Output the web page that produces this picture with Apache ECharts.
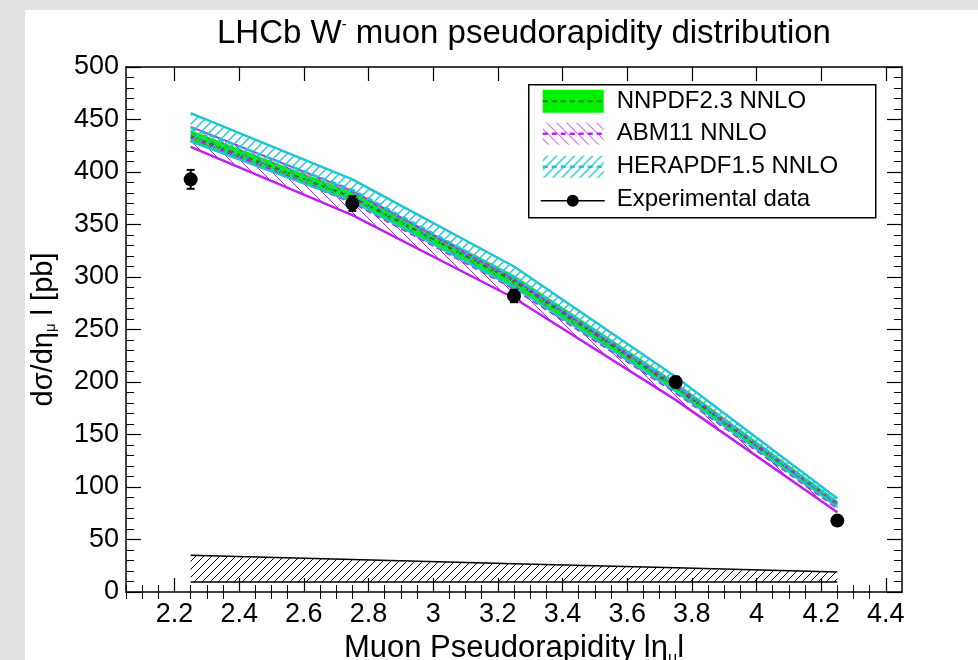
<!DOCTYPE html>
<html><head><meta charset="utf-8">
<script src="https://cdn.jsdelivr.net/npm/echarts@6/dist/echarts.min.js"></script>
<style>
html,body{margin:0;padding:0;background:#e2e2e2;width:978px;height:660px;overflow:hidden;}
#paper{position:absolute;left:25px;top:10px;width:953px;height:650px;background:#fff;}
#chart{position:absolute;left:0;top:0;width:978px;height:660px;}
</style>
</head><body><div id="paper"></div><div id="chart"></div>
<script>
// ---- data ----
const etaBins = [2.25, 2.75, 3.25, 3.75, 4.25];
const dataValues = [393, 370, 282, 200, 68];
const dataErrors = [9, 7, 6, 5, 3];
const nnpdfCentral = [434, 376, 296, 195, 84];
const nnpdfUpper   = [440, 381, 302, 200, 87];
const nnpdfLower   = [428, 371, 290, 190, 81];
const abmCentral   = [433, 371, 289, 190, 80];
const abmUpper     = [443, 382, 298, 197, 84];
const abmLower     = [424, 359, 280, 183, 76];
const heraCentral  = [442, 383, 300, 198, 85];
const heraUpper    = [456, 393, 310, 205, 89];
const heraLower    = [429, 372, 290, 191, 81];
const sysUpper     = [35, 31, 27, 23, 19];
const sysLower     = [9.5, 9.5, 9.5, 9.5, 9.5];
const xMajorTicks  = [2.2, 2.4, 2.6, 2.8, 3, 3.2, 3.4, 3.6, 3.8, 4, 4.2, 4.4];
const xMinorTicks  = [2.05, 2.1, 2.15, 2.25, 2.3, 2.35, 2.45, 2.5, 2.55, 2.65, 2.7, 2.75, 2.85, 2.9, 2.95,
                      3.05, 3.1, 3.15, 3.25, 3.3, 3.35, 3.45, 3.5, 3.55, 3.65, 3.7, 3.75, 3.85, 3.9, 3.95,
                      4.05, 4.1, 4.15, 4.25, 4.3, 4.35];
const legendNames  = ['NNPDF2.3 NNLO', 'ABM11 NNLO', 'HERAPDF1.5 NNLO', 'Experimental data'];

const FONT = '"Liberation Sans", Arial, Helvetica, sans-serif';
const CYAN = '#1ec6d3', MAG = '#bf1ff0', GREEN = '#00f000', DGREEN = '#008a00';

function hatch(color, dir, size, lw) {
  const c = document.createElement('canvas'); c.width = size; c.height = size;
  const g = c.getContext('2d'); g.strokeStyle = color; g.lineWidth = lw; g.beginPath();
  if (dir > 0) {
    g.moveTo(0, size); g.lineTo(size, 0);
    g.moveTo(-size, size); g.lineTo(size, -size);
    g.moveTo(0, 2 * size); g.lineTo(2 * size, 0);
  } else {
    g.moveTo(0, 0); g.lineTo(size, size);
    g.moveTo(-size, 0); g.lineTo(size, 2 * size);
    g.moveTo(0, -size); g.lineTo(2 * size, size);
  }
  g.stroke();
  return { image: c, repeat: 'repeat' };
}
const cyanHatch = hatch(CYAN, 1, 9, 1.4);
const magHatch = hatch(MAG, -1, 10, 1);
const blackHatch = hatch('#000', 1, 8, 1);

function band(upper, lower, fill, z) {
  return {
    type: 'custom', z, silent: true, clip: true,
    data: etaBins.map((x, i) => [x, upper[i], lower[i]]),
    encode: { x: 0, y: [1, 2] },
    renderItem(params, api) {
      if (params.dataIndex !== 0) return null;
      const pts = [];
      for (let i = 0; i < etaBins.length; i++) pts.push(api.coord([etaBins[i], upper[i]]));
      for (let i = etaBins.length - 1; i >= 0; i--) pts.push(api.coord([etaBins[i], lower[i]]));
      return { type: 'polygon', shape: { points: pts }, style: { fill: fill, stroke: null } };
    }
  };
}
function curve(vals, color, type, width, z) {
  return { type: 'line', z, silent: true, symbol: 'none', data: etaBins.map((x, i) => [x, vals[i]]),
           lineStyle: { color, type, width } };
}

const chart = echarts.init(document.getElementById('chart'), null, { renderer: 'canvas' });

const axisCommon = { min: 2.05, max: 4.45, type: 'value', gridIndex: 0, splitLine: { show: false } };
const option = {
  animation: false,
  backgroundColor: 'transparent',
  title: {
    text: 'LHCb W{sup|-} muon pseudorapidity distribution',
    left: 212, top: 12,
    textStyle: { fontFamily: FONT, fontSize: 33, fontWeight: 'normal', color: '#000',
      rich: { sup: { fontFamily: FONT, fontSize: 15, verticalAlign: 'top', color: '#000' } } }
  },
  grid: { left: 126, right: 76, top: 67, bottom: 68, outerBoundsMode: 'none', containLabel: false },
  xAxis: [
    Object.assign({}, axisCommon, { position: 'bottom',
      name: 'Muon Pseudorapidity l{e|η}{s|μ}{e|l}', nameLocation: 'middle', nameGap: 35,
      nameTextStyle: { fontFamily: FONT, fontSize: 31, color: '#000',
        rich: { e: { fontFamily: FONT, fontSize: 31, lineHeight: 36, verticalAlign: 'middle' },
                s: { fontFamily: FONT, fontSize: 16, lineHeight: 16, verticalAlign: 'bottom' } } },
      axisLine: { show: true, onZero: false, lineStyle: { color: '#000', width: 1.5 } },
      axisTick: { show: true, inside: true, length: 14, customValues: xMajorTicks, lineStyle: { color: '#000', width: 1.2 } },
      axisLabel: { show: true, customValues: xMajorTicks, margin: 9, fontFamily: FONT, fontSize: 27, color: '#000' } }),
    Object.assign({}, axisCommon, { position: 'bottom',
      axisLine: { show: false }, axisLabel: { show: false },
      axisTick: { show: true, inside: true, length: 7, customValues: xMinorTicks, lineStyle: { color: '#000', width: 1 } } }),
    Object.assign({}, axisCommon, { position: 'top',
      axisLine: { show: true, onZero: false, lineStyle: { color: '#000', width: 1.5 } }, axisLabel: { show: false },
      axisTick: { show: true, inside: true, length: 14, customValues: xMajorTicks, lineStyle: { color: '#000', width: 1.2 } } }),
    Object.assign({}, axisCommon, { position: 'top',
      axisLine: { show: false }, axisLabel: { show: false },
      axisTick: { show: true, inside: true, length: 7, customValues: xMinorTicks, lineStyle: { color: '#000', width: 1 } } })
  ],
  yAxis: [
    { type: 'value', min: 0, max: 500, interval: 50, position: 'left',
      name: 'dσ/dη{s|μ} l [pb]', nameLocation: 'middle', nameGap: 68, nameRotate: 90,
      nameTextStyle: { fontFamily: FONT, fontSize: 29, color: '#000',
        rich: { s: { fontFamily: FONT, fontSize: 15, lineHeight: 15, verticalAlign: 'bottom' } } },
      splitLine: { show: false },
      axisLine: { show: true, onZero: false, lineStyle: { color: '#000', width: 1.5 } },
      axisTick: { show: true, inside: true, length: 15, lineStyle: { color: '#000', width: 1.2 } },
      minorTick: { show: true, splitNumber: 5, length: 8, lineStyle: { color: '#000', width: 1 } },
      axisLabel: { margin: 7, fontFamily: FONT, fontSize: 27, color: '#000' } },
    { type: 'value', min: 0, max: 500, interval: 50, position: 'right',
      splitLine: { show: false },
      axisLine: { show: true, onZero: false, lineStyle: { color: '#000', width: 1.5 } },
      axisTick: { show: true, inside: true, length: 15, lineStyle: { color: '#000', width: 1.2 } },
      minorTick: { show: true, splitNumber: 5, length: 8, lineStyle: { color: '#000', width: 1 } },
      axisLabel: { show: false } }
  ],
  series: [
    band(sysUpper, sysLower, blackHatch, 2),
    curve(sysUpper, '#000', 'solid', 1.5, 3),
    curve(sysLower, '#000', 'solid', 1.5, 3),
    band(nnpdfUpper, nnpdfLower, GREEN, 4),
    curve(nnpdfCentral, DGREEN, [6, 4], 2, 5),
    band(abmUpper, abmLower, magHatch, 6),
    curve(abmUpper, MAG, 'solid', 2, 7),
    curve(abmLower, MAG, 'solid', 2.5, 7),
    curve(abmCentral, MAG, [6, 4], 2.5, 7),
    band(heraUpper, heraLower, cyanHatch, 8),
    curve(heraUpper, CYAN, 'solid', 2.5, 9),
    curve(heraLower, CYAN, 'solid', 2, 9),
    curve(heraCentral, CYAN, [6, 4], 2.5, 9),
    { type: 'custom', z: 11, silent: true,
      data: etaBins.map((x, i) => [x, dataValues[i], dataErrors[i]]),
      renderItem(params, api) {
        const x = api.value(0), y = api.value(1), e = api.value(2);
        const t = api.coord([x, y + e]), b = api.coord([x, y - e]);
        const st = { stroke: '#000', lineWidth: 2 };
        return { type: 'group', children: [
          { type: 'line', shape: { x1: t[0], y1: t[1], x2: b[0], y2: b[1] }, style: st },
          { type: 'line', shape: { x1: t[0] - 4, y1: t[1], x2: t[0] + 4, y2: t[1] }, style: st },
          { type: 'line', shape: { x1: b[0] - 4, y1: b[1], x2: b[0] + 4, y2: b[1] }, style: st } ] };
      } },
    { type: 'scatter', name: legendNames[3], z: 12, silent: true, symbol: 'circle', symbolSize: 14,
      itemStyle: { color: '#000', opacity: 1 }, data: etaBins.map((x, i) => [x, dataValues[i]]) }
  ],
  graphic: [
    { type: 'group', left: 528, top: 84, z: 100, children: [
      { type: 'rect', shape: { x: 0, y: 0, width: 347, height: 133 }, style: { fill: '#fff', stroke: '#000', lineWidth: 1.5 } },
      { type: 'rect', shape: { x: 14, y: 5, width: 61, height: 23 }, style: { fill: GREEN } },
      { type: 'line', shape: { x1: 14, y1: 16.5, x2: 75, y2: 16.5 }, style: { stroke: DGREEN, lineWidth: 2, lineDash: [5, 4] } },
      { type: 'rect', shape: { x: 14, y: 38, width: 61, height: 22 }, style: { fill: magHatch } },
      { type: 'line', shape: { x1: 14, y1: 49, x2: 75, y2: 49 }, style: { stroke: MAG, lineWidth: 2.5, lineDash: [5, 4] } },
      { type: 'rect', shape: { x: 14, y: 71, width: 61, height: 22 }, style: { fill: cyanHatch } },
      { type: 'line', shape: { x1: 14, y1: 82, x2: 75, y2: 82 }, style: { stroke: CYAN, lineWidth: 2.5, lineDash: [5, 4] } },
      { type: 'line', shape: { x1: 12, y1: 116, x2: 76, y2: 116 }, style: { stroke: '#000', lineWidth: 1.5 } },
      { type: 'circle', shape: { cx: 44, cy: 116, r: 6 }, style: { fill: '#000' } },
      { type: 'text', x: 88, y: 17, style: { text: legendNames[0], font: '24px ' + FONT, fill: '#000', verticalAlign: 'middle' } },
      { type: 'text', x: 88, y: 49, style: { text: legendNames[1], font: '24px ' + FONT, fill: '#000', verticalAlign: 'middle' } },
      { type: 'text', x: 88, y: 82, style: { text: legendNames[2], font: '24px ' + FONT, fill: '#000', verticalAlign: 'middle' } },
      { type: 'text', x: 88, y: 115, style: { text: legendNames[3], font: '24px ' + FONT, fill: '#000', verticalAlign: 'middle' } }
    ] }
  ]
};
chart.setOption(option);
</script>
</body></html>
